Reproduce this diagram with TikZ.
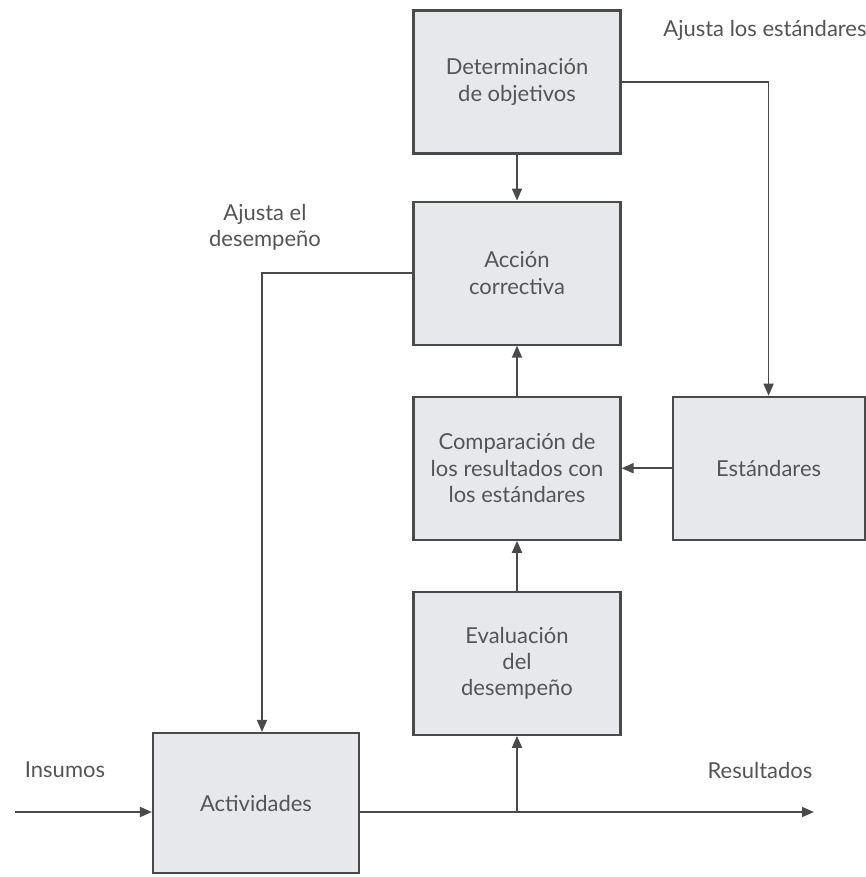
\documentclass[tikz,border=0pt]{standalone}
\usepackage{fontspec}
\setmainfont{Lato}
\usetikzlibrary{positioning,arrows.meta,calc}
\definecolor{relleno}{HTML}{E6E8EC}
\definecolor{borde}{HTML}{4A4A4A}
\definecolor{texto}{HTML}{555555}
\tikzset{
  bloque/.style   = {draw=borde, fill=relleno, line width=1.2pt, align=center, text=texto,
                     minimum width=41.4mm, minimum height=28.6mm, inner sep=2pt,
                     font=\fontsize{12.5}{15}\selectfont},
  etiqueta/.style = {align=center, text=texto, inner sep=1pt, font=\fontsize{12.5}{15}\selectfont},
  flecha/.style   = {-{Triangle[length=2.4mm,width=2mm]}, line width=1pt, draw=borde},
  linea/.style    = {line width=1pt, draw=borde}
}
\begin{document}
\begin{tikzpicture}[node distance=10mm]
    \useasboundingbox[fill=white] (0,0) rectangle (17.32,-17.54);

    \node[bloque] (det) at (10.34,-1.64) {Determinación\\ de objetivos};
    \node[bloque, below=9.2mm of det] (acc) {Acción\\ correctiva};
    \node[bloque, below=of acc] (comp) {Comparación de\\ los resultados con\\ los estándares};
    \node[bloque, minimum width=38.4mm, right=of comp] (est) {Estándares};
    \node[bloque, below=of comp] (eval) {Evaluación\\ del\\ desempeño};
    \node[bloque, minimum width=41.2mm, minimum height=28mm] (act) at (5.12,-16.06) {Actividades};

    \node[etiqueta] (ajesta) at (15.3,-0.6) {Ajusta los estándares};
    \node[etiqueta] (ajdes) at (5.3,-4.54) {Ajusta el\\ desempeño};
    \node[etiqueta] (insumos) at (1.3,-15.4) {Insumos};
    \node[etiqueta] (result) at (15.2,-15.4) {Resultados};

    \coordinate (entrada) at (0.3,-16.24);
    \coordinate (salida) at (16.28,-16.24);
    \coordinate (bajada) at ($(act.north)+(0.12,0)$);
    \coordinate (rama) at (entrada -| eval.south);

    \draw[flecha] (det) -- (acc);
    \draw[flecha] (det.east) -| (est.north);
    \draw[flecha] (comp) -- (acc);
    \draw[flecha] (est) -- (comp);
    \draw[flecha] (eval) -- (comp);
    \draw[flecha] (acc.west) -| (bajada);
    \draw[flecha] (entrada) -- (entrada -| act.west);
    \draw[flecha] (entrada -| act.east) -- (salida);
    \draw[flecha] (rama) -- (eval.south);
\end{tikzpicture}
\end{document}
